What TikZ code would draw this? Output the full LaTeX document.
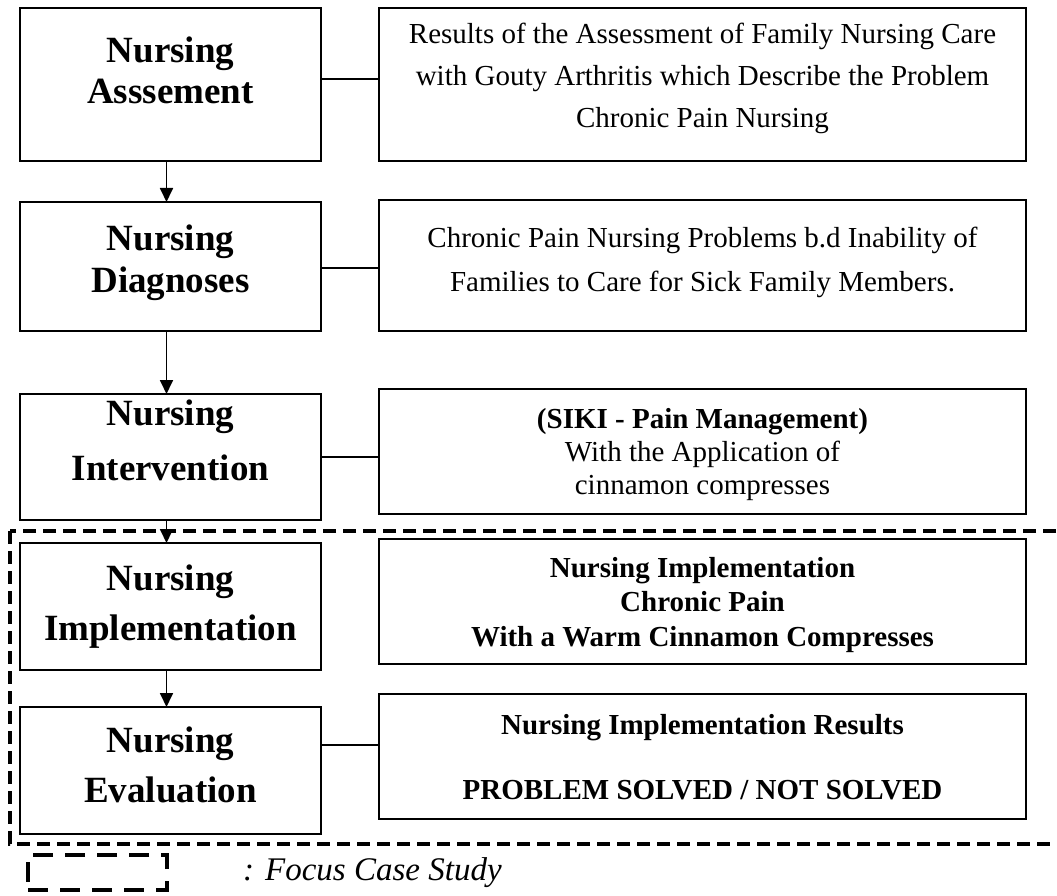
\documentclass[tikz,border=0pt]{standalone}
\usepackage{fontspec}
\setmainfont{Liberation Serif}
\usetikzlibrary{positioning,arrows.meta}
\tikzset{
  stepbox/.style={draw, line width=1.8pt, minimum width=301pt, inner sep=0pt, outer sep=0pt, align=center, font=\fontsize{37}{#1}\selectfont\bfseries},
  stepbox/.default=46,
  descbox/.style={draw, line width=1.8pt, minimum width=647pt, inner sep=0pt, outer sep=0pt, align=center, font=\fontsize{29}{#1}\selectfont},
  descbox/.default=42,
  flowarrow/.style={-{Triangle[width=13pt,length=14pt]}, line width=1.8pt},
  link/.style={line width=1.5pt},
  focusframe/.style={line width=3.6pt, dash pattern=on 13pt off 7pt}
}

\begin{document}
\begin{tikzpicture}[x=1pt, y=1pt]
  \tikzset{legendbox/.style={draw, line width=3.6pt, dash pattern=on 20pt off 12pt, minimum width=139pt, minimum height=35pt, inner sep=0pt, outer sep=0pt},
           legendtext/.style={inner sep=0pt, font=\fontsize{33}{38}\selectfont\itshape}}
  \useasboundingbox (0,0) rectangle (1057,-896);

  \node[stepbox=41, minimum height=153pt, text depth=29pt] (a1) at (170.5,-84.5) {Nursing\\Asssement};
  \node[stepbox=42, minimum height=129pt, text depth=15pt, below=41pt of a1] (a2) {Nursing\\Diagnoses};
  \node[stepbox=55, minimum height=126pt, text depth=34pt, below=63pt of a2] (a3) {Nursing\\Intervention};
  \node[stepbox=50, minimum height=127pt, text depth=7pt, below=23pt of a3] (a4) {Nursing\\Implementation};
  \node[stepbox=50, minimum height=127pt, text depth=11pt, below=37pt of a4] (a5) {Nursing\\Evaluation};

  \node[descbox, minimum height=153pt, text depth=18pt, right=58pt of a1.north east, anchor=north west] (r1)
    {Results of the Assessment of Family Nursing Care\\with Gouty Arthritis which Describe the Problem\\Chronic Pain Nursing};
  \node[descbox=44, minimum height=131pt, text depth=12pt, right=58pt of a2.north east, anchor=north west, yshift=2pt] (r2)
    {Chronic Pain Nursing Problems b.d Inability of\\Families to Care for Sick Family Members.};
  \node[descbox=33, minimum height=125pt, text depth=0pt, right=58pt of a3.north east, anchor=north west, yshift=5pt] (r3)
    {\textbf{(SIKI - Pain Management)}\\With the Application of\\cinnamon compresses};
  \node[descbox=34.5, minimum height=125pt, text depth=0pt, right=58pt of a4.north east, anchor=north west, yshift=4pt] (r4)
    {\bfseries Nursing Implementation\\\bfseries Chronic Pain\\\bfseries With a Warm Cinnamon Compresses};
  \node[descbox=32.5, minimum height=125pt, text depth=0pt, right=58pt of a5.north east, anchor=north west, yshift=13pt] (r5)
    {\bfseries Nursing Implementation Results\\[32.5pt]\bfseries PROBLEM SOLVED / NOT SOLVED};

  \draw[flowarrow] ([xshift=-4pt]a1.south) -- ([xshift=-4pt]a2.north);
  \draw[flowarrow] ([xshift=-4pt]a2.south) -- ([xshift=-4pt]a3.north);
  \draw[flowarrow] ([xshift=-4pt]a3.south) -- ([xshift=-4pt]a4.north);
  \draw[flowarrow] ([xshift=-4pt]a4.south) -- ([xshift=-4pt]a5.north);

  \coordinate (c1) at ([yshift=5.5pt]a1.east);
  \coordinate (c2) at ([yshift=-1.5pt]a2.east);
  \coordinate (c3) at (a3.east);
  \coordinate (c5) at ([yshift=25.5pt]a5.east);
  \draw[link] (c1) -- (c1 -| r1.west);
  \draw[link] (c2) -- (c2 -| r2.west);
  \draw[link] (c3) -- (c3 -| r3.west);
  \draw[link] (c5) -- (c5 -| r5.west);

  % focus case study frame
  \draw[focusframe] (10,-531) rectangle (1080,-844);

  \node[legendbox] (legbox) at (97.5,-872.5) {};
  \node[legendtext, right=76pt of legbox] (legtext) {: Focus Case Study};
\end{tikzpicture}
\end{document}
